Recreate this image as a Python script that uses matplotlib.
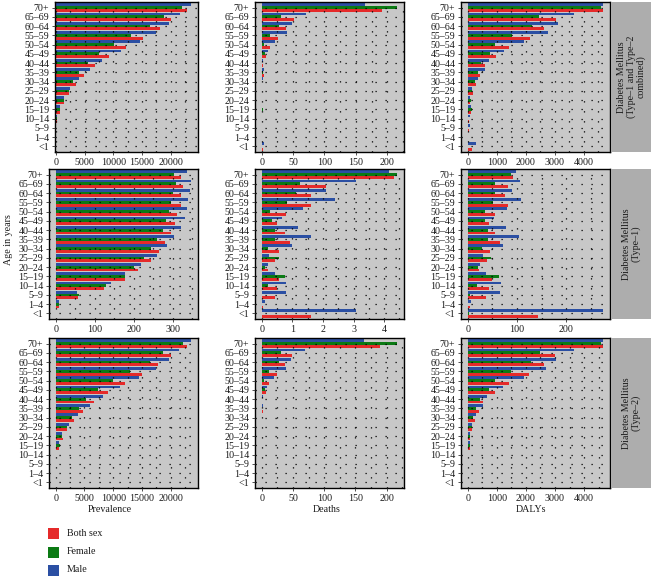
import matplotlib
matplotlib.use("Agg")
import matplotlib.pyplot as plt
from matplotlib.ticker import MultipleLocator
from matplotlib.patches import Rectangle

plt.rcParams['font.family'] = ['Liberation Serif', 'DejaVu Serif']

ages = ["<1", "1–4", "5–9", "10–14", "15–19", "20–24", "25–29", "30–34",
        "35–39", "40–44", "45–49", "50–54", "55–59", "60–64", "65–69", "70+"]
series_names = ["Both sex", "Female", "Male"]
series_colors = ["#E52A2A", "#0B7A14", "#2B4FA3"]
row_titles = ["Diabetes Mellitus\n(Type–1 and Type–2\ncombined)",
              "Diabetes Mellitus\n(Type–1)",
              "Diabetes Mellitus\n(Type–2)"]
col_titles = ["Prevalence", "Deaths", "DALYs"]

# ---- Row 1: combined ----
prev_comb_both = [0, 9, 57, 130, 700, 1460, 2270, 3440, 4960, 6880, 9210, 12240, 15220, 18080, 20120, 22800]
prev_comb_female = [0, 9, 60, 135, 760, 1340, 2220, 2970, 4080, 5540, 7460, 10090, 13180, 16330, 18830, 22040]
prev_comb_male = [0, 9, 54, 145, 760, 1460, 2510, 4020, 6000, 8050, 11370, 14580, 17380, 19700, 21570, 23500]

deaths_comb_both = [1.6, 0.04, 0.44, 0.5, 0.8, 0.3, 0.6, 1.0, 3.0, 1.6, 6.5, 12.4, 26, 38, 51, 192]
deaths_comb_female = [0.02, 0.0, 0.02, 0.2, 1.4, 0.2, 0.8, 0.5, 1.5, 1.0, 5.4, 4.3, 13.5, 28, 31, 216]
deaths_comb_male = [3.1, 0.1, 0.8, 0.8, 0.5, 0.3, 0.4, 2.0, 4.3, 2.7, 9.7, 21.5, 40, 48, 71, 165]

dalys_comb_both = [150, 4, 35, 40, 110, 90, 170, 270, 430, 600, 980, 1430, 2150, 2640, 3040, 4650]
dalys_comb_female = [5, 1, 4, 20, 130, 100, 160, 240, 340, 470, 750, 950, 1520, 2210, 2460, 4600]
dalys_comb_male = [270, 7, 66, 70, 100, 90, 160, 350, 580, 740, 1260, 1940, 2750, 3100, 3660, 4670]

# ---- Row 2: Type-1 ----
prev_t1_both = [0, 9, 57, 124, 177, 211, 243, 264, 281, 296, 305, 311, 320, 322, 326, 322]
prev_t1_female = [0, 9, 60, 129, 177, 200, 225, 244, 260, 275, 283, 290, 296, 301, 307, 302]
prev_t1_male = [0, 9, 54, 142, 177, 219, 260, 285, 304, 320, 330, 335, 338, 344, 347, 337]

deaths_t1_both = [1.62, 0.04, 0.44, 0.49, 0.57, 0.19, 0.42, 0.55, 0.93, 0.77, 0.49, 0.79, 1.62, 1.62, 2.11, 4.32]
deaths_t1_female = [0.02, 0.0, 0.02, 0.19, 0.75, 0.11, 0.55, 0.22, 0.44, 0.44, 0.33, 0.27, 0.82, 1.13, 1.24, 4.43]
deaths_t1_male = [3.09, 0.09, 0.79, 0.80, 0.42, 0.20, 0.25, 0.99, 1.62, 1.19, 0.66, 1.34, 2.40, 2.11, 3.07, 4.16]

dalys_t1_both = [142, 4, 36, 43, 49, 23, 39, 46, 66, 56, 44, 55, 81, 75, 81, 92]
dalys_t1_female = [2, 1, 4, 18, 63, 20, 47, 28, 41, 41, 34, 34, 52, 55, 56, 87]
dalys_t1_male = [275, 7, 66, 68, 38, 24, 31, 72, 104, 78, 53, 79, 108, 90, 107, 98]

# ---- Row 3: Type-2 ----
prev_t2_both = [0, 0, 0, 5, 520, 1220, 2040, 3200, 4720, 6590, 9100, 12010, 15040, 17840, 20120, 22800]
prev_t2_female = [0, 0, 0, 5, 760, 1170, 1920, 2800, 3960, 5300, 7290, 9910, 13000, 16330, 18660, 22200]
prev_t2_male = [0, 0, 0, 5, 580, 1170, 2330, 3850, 5890, 8220, 11250, 14460, 17380, 19700, 21460, 23600]

deaths_t2_both = [0, 0, 0, 0.05, 0.2, 0.1, 0.3, 0.6, 2.0, 1.0, 7, 12, 25, 37, 49, 190]
deaths_t2_female = [0, 0, 0, 0.02, 0.7, 0.1, 0.3, 0.3, 1.0, 0.5, 5, 4, 12, 28, 31, 217]
deaths_t2_male = [0, 0, 0, 0.05, 0.1, 0.1, 0.3, 1.0, 2.5, 1.5, 9, 20, 39, 47, 69, 163]

dalys_t2_both = [0, 0, 0, 5, 70, 75, 130, 240, 380, 530, 950, 1410, 2090, 2610, 3010, 4650]
dalys_t2_female = [0, 0, 0, 5, 90, 80, 130, 180, 290, 430, 720, 930, 1500, 2180, 2470, 4600]
dalys_t2_male = [0, 0, 0, 5, 60, 70, 130, 290, 510, 660, 1210, 1940, 2700, 3040, 3660, 4660]

panels = [
    [(prev_comb_both, prev_comb_female, prev_comb_male),
     (deaths_comb_both, deaths_comb_female, deaths_comb_male),
     (dalys_comb_both, dalys_comb_female, dalys_comb_male)],
    [(prev_t1_both, prev_t1_female, prev_t1_male),
     (deaths_t1_both, deaths_t1_female, deaths_t1_male),
     (dalys_t1_both, dalys_t1_female, dalys_t1_male)],
    [(prev_t2_both, prev_t2_female, prev_t2_male),
     (deaths_t2_both, deaths_t2_female, deaths_t2_male),
     (dalys_t2_both, dalys_t2_female, dalys_t2_male)],
]
major_steps = [[5000, 50, 1000], [100, 1, 100], [5000, 50, 1000]]

W, H = 651, 576
fig = plt.figure(figsize=(W / 100, H / 100), dpi=100)
FS = 7.2
PANEL_BG = "#C8C8C8"
STRIP_BG = "#ADADAD"

col_lefts = [49, 255, 461]
row_tops = [2, 169, 338]
PW, PH = 149, 150


def px_axes(left, top, w, h):
    return fig.add_axes([left / W, 1 - (top + h) / H, w / W, h / H])


grid_style = dict(color="black", linestyle=(0, (1, 7)), linewidth=0.9)

for r in range(3):
    for c in range(3):
        left = col_lefts[c]
        w = PW
        if r == 0 and c == 0:
            left, w = 55, 143
        ax = px_axes(left, row_tops[r], w, PH)
        ax.set_facecolor(PANEL_BG)
        both, female, male = panels[r][c]
        y = list(range(len(ages)))
        for vals, off, col in zip((both, female, male), (-0.3, 0.0, 0.3), series_colors):
            ax.barh([yy + off for yy in y], vals, height=0.3, color=col, zorder=1)
        m = max(max(both), max(female), max(male))
        if r == 0 and c == 0:
            ax.set_xlim(-0.0075 * m, 1.055 * m)
        else:
            ax.set_xlim(-0.05 * m, 1.05 * m)
        ax.set_ylim(-0.6, len(ages) - 0.4)
        step = major_steps[r][c]
        ax.xaxis.set_major_locator(MultipleLocator(step))
        ax.xaxis.set_minor_locator(MultipleLocator(step / 2))
        ax.set_yticks(y)
        ax.set_yticklabels(ages)
        ax.set_axisbelow(False)
        ax.grid(True, which="both", axis="x", **grid_style)
        ax.grid(True, which="major", axis="y", **grid_style)
        ax.tick_params(axis="both", which="major", labelsize=FS, length=2.5,
                       width=0.6, color="#333333", pad=1.5, labelcolor="#1a1a1a")
        ax.tick_params(axis="x", which="minor", length=0)
        for s in ax.spines.values():
            s.set_linewidth(1.0)
            s.set_color("black")
        # strip
        if c == 2:
            sax = px_axes(611, row_tops[r], 40, PH)
            sax.set_facecolor(STRIP_BG)
            sax.set_xticks([])
            sax.set_yticks([])
            for s in sax.spines.values():
                s.set_visible(False)
            sax.text(0.5, 0.5, row_titles[r], rotation=90, ha="center", va="center",
                     fontsize=FS, color="#1a1a1a", transform=sax.transAxes,
                     linespacing=1.05, multialignment="center")

# axis titles
for x, t in zip([110, 327, 531], col_titles):
    fig.text(x / W, 1 - 510 / H, t, ha="center", va="center", fontsize=FS, color="#1a1a1a")
fig.text(9 / W, 1 - 240 / H, "Age in years", rotation=90, ha="center", va="center",
         fontsize=FS, color="#1a1a1a")

# legend
for i, (name, col) in enumerate(zip(series_names, series_colors)):
    yc = [533, 552, 570][i]
    fig.patches.append(Rectangle((48 / W, 1 - (yc + 5.5) / H), 11 / W, 11 / H,
                                 transform=fig.transFigure, facecolor=col,
                                 edgecolor="none"))
    fig.text(67 / W, 1 - yc / H, name, ha="left", va="center", fontsize=FS, color="#1a1a1a")

fig.savefig("out.png", dpi=100)
